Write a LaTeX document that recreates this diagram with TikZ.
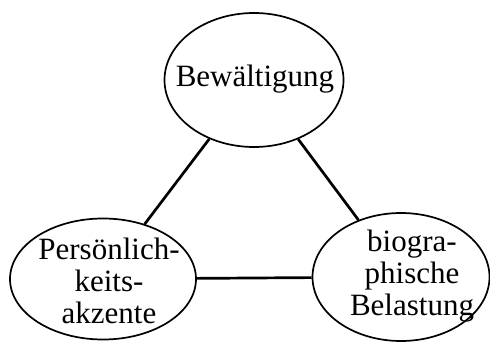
\documentclass[tikz,border=0pt]{standalone}
\usepackage{fontspec}
\setmainfont{Liberation Serif}
\usetikzlibrary{shapes.geometric}
\begin{document}
\begin{tikzpicture}[x=1pt,y=-1pt,
  oval/.style={ellipse,draw,line width=1.7pt,inner sep=0pt},
  lbl/.style={align=center,font=\fontsize{31}{32}\selectfont,inner sep=0pt},
  link/.style={line width=2.7pt}]
\useasboundingbox (0,0) rectangle (490,342);
\node[oval,minimum width=179pt,minimum height=134pt] (top) at (254,80) {};
\node[oval,minimum width=186pt,minimum height=121pt] (left) at (103,279) {};
\node[oval,minimum width=177pt,minimum height=128pt] (right) at (401,277) {};
\node[lbl] (ttop) at (255,79) {Bewältigung};
\node[lbl] (tleft) at (109,281) {Persönlich-\\keits-\\akzente};
\node[lbl] (tright) at (412,276) {biogra-\\phische\\Belastung};
\draw[link] (top) -- (left);
\draw[link] (top) -- (right);
\draw[link] (left) -- (right);
\end{tikzpicture}
\end{document}
